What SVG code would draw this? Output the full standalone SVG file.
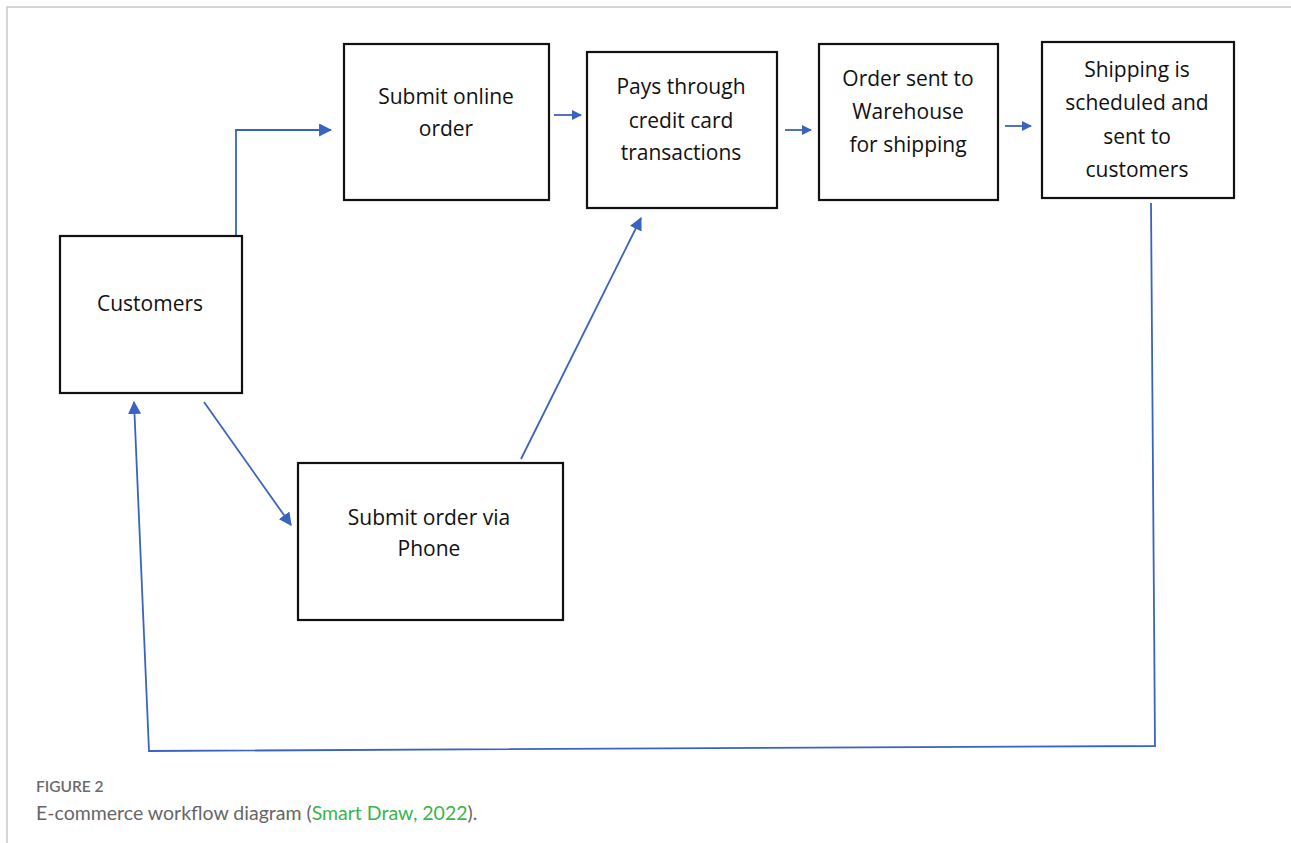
<svg xmlns="http://www.w3.org/2000/svg" width="1291" height="843" viewBox="0 0 1291 843">
  <style>
    .box { fill: #ffffff; stroke: #111111; stroke-width: 2.2; }
    .lbl { font-family: "Open Sans", "Noto Sans", sans-serif; font-size: 21px; font-weight: 500; fill: #111111; text-anchor: middle; }
    .conn { fill: none; stroke: #3a63c0; stroke-width: 1.8; }
    .frame { fill: none; stroke: #c8c8c8; stroke-width: 1.5; }
    .cap-head { font-family: "Lato", "Open Sans", sans-serif; font-size: 15.5px; font-weight: 600; fill: #6a6a6a; }
    .cap { font-family: "Lato", "Open Sans", sans-serif; font-size: 19.5px; fill: #666666; }
    .cite { fill: #3ab54a; }
  </style>
  <defs>
    <marker id="arrow" viewBox="0 0 10 10" refX="9" refY="5" markerWidth="10" markerHeight="10" markerUnits="userSpaceOnUse" orient="auto">
      <path d="M0,0 L10,5 L0,10 z" fill="#3a63c0"/>
    </marker>
    <marker id="arrowBig" viewBox="0 0 12 12" refX="11" refY="6" markerWidth="13" markerHeight="13" markerUnits="userSpaceOnUse" orient="auto">
      <path d="M0,0 L12,6 L0,12 z" fill="#3a63c0"/>
    </marker>
  </defs>

  <rect width="1291" height="843" fill="#ffffff"/>
  <path class="frame" d="M7,843 V7 H1291"/>

  <g id="connectors">
    <path class="conn" d="M236,237 V130 H331" marker-end="url(#arrowBig)"/>
    <path class="conn" d="M554,115 H581" marker-end="url(#arrow)"/>
    <path class="conn" d="M785,130 H811" marker-end="url(#arrow)"/>
    <path class="conn" d="M1005,126 H1031" marker-end="url(#arrow)"/>
    <path class="conn" d="M204,402 L291,525" marker-end="url(#arrowBig)"/>
    <path class="conn" d="M521,459 L641,218" marker-end="url(#arrowBig)"/>
    <path class="conn" d="M1151,203 L1155,746 L149,751 L134,402" marker-end="url(#arrowBig)"/>
  </g>

  <g id="customers">
    <rect class="box" x="60" y="236" width="182" height="157"/>
    <text class="lbl" x="150" y="311">Customers</text>
  </g>

  <g id="submit-online">
    <rect class="box" x="344" y="44" width="205" height="156"/>
    <text class="lbl" x="446" y="104">Submit online</text>
    <text class="lbl" x="446" y="136">order</text>
  </g>

  <g id="pays">
    <rect class="box" x="587" y="52" width="190" height="156"/>
    <text class="lbl" x="681" y="94">Pays through</text>
    <text class="lbl" x="681" y="128">credit card</text>
    <text class="lbl" x="681" y="160">transactions</text>
  </g>

  <g id="warehouse">
    <rect class="box" x="819" y="44" width="179" height="156"/>
    <text class="lbl" x="908" y="86">Order sent to</text>
    <text class="lbl" x="908" y="119">Warehouse</text>
    <text class="lbl" x="908" y="152">for shipping</text>
  </g>

  <g id="shipping">
    <rect class="box" x="1042" y="42" width="192" height="156"/>
    <text class="lbl" x="1137" y="77">Shipping is</text>
    <text class="lbl" x="1137" y="110">scheduled and</text>
    <text class="lbl" x="1137" y="144">sent to</text>
    <text class="lbl" x="1137" y="177">customers</text>
  </g>

  <g id="submit-phone">
    <rect class="box" x="298" y="463" width="265" height="157"/>
    <text class="lbl" x="429" y="525">Submit order via</text>
    <text class="lbl" x="429" y="556">Phone</text>
  </g>

  <g id="caption">
    <text class="cap-head" x="36" y="792">FIGURE 2</text>
    <text class="cap" x="36" y="820">E-commerce workflow diagram (<tspan class="cite">Smart Draw, 2022</tspan>).</text>
  </g>
</svg>
